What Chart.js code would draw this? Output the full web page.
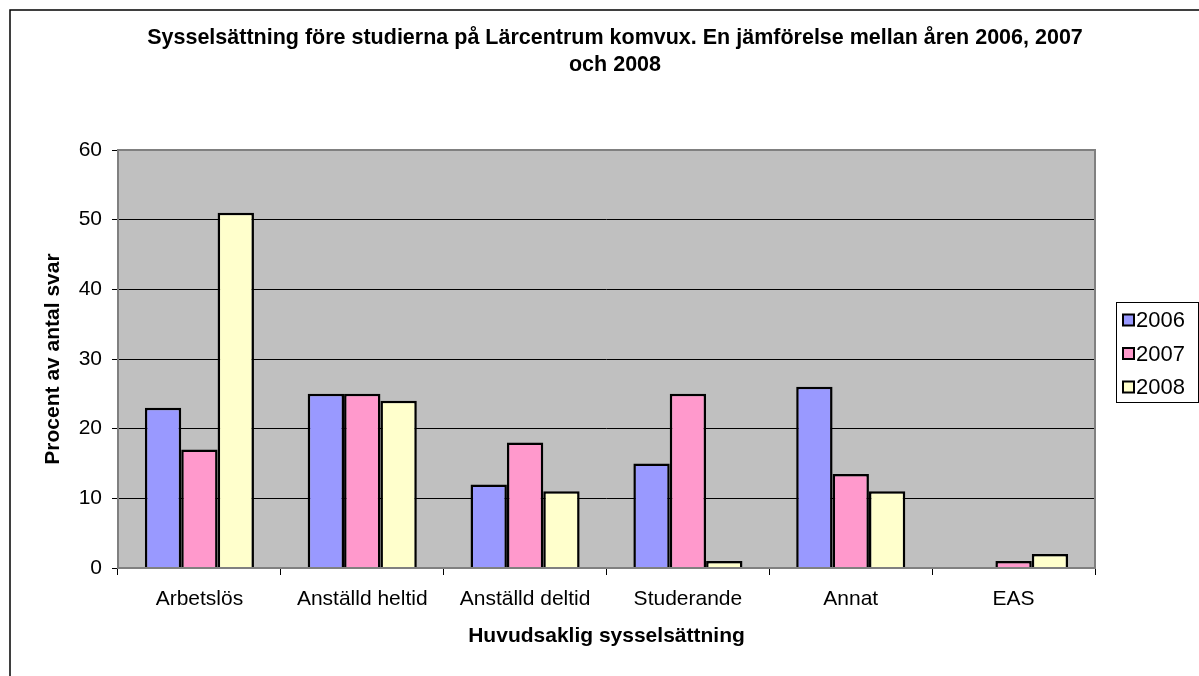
<!DOCTYPE html>
<html>
<head>
<meta charset="utf-8">
<script src="https://cdn.jsdelivr.net/npm/chart.js@4"></script>
<style>
  html, body { margin: 0; padding: 0; background: #fff; }
  #wrap { width: 1199px; height: 676px; }
</style>
</head>
<body>
<div id="wrap"><canvas id="chart" width="1199" height="676"></canvas></div>
<script>
// categories and series
const categories = ["Arbetslös", "Anställd heltid", "Anställd deltid", "Studerande", "Annat", "EAS"];
const years = ["2006", "2007", "2008"];
const values2006 = [23, 25, 12, 15, 26, 0];
const values2007 = [17, 25, 18, 25, 13.5, 1];
const values2008 = [51, 24, 11, 1, 11, 2];
const yTicks = [0, 10, 20, 30, 40, 50, 60];

const titleLines = ["Sysselsättning före studierna på Lärcentrum komvux. En jämförelse mellan åren 2006, 2007", "och 2008"];
const colors = ["#9999FF", "#FF99CC", "#FFFFCC"];

// draws the outer frame, title, plot background/border and the boxed legend
const decor = {
    id: "decor",
    beforeDraw(chart) {
        const ctx = chart.ctx;
        const a = chart.chartArea;
        ctx.save();
        ctx.fillStyle = "#fff";
        ctx.fillRect(0, 0, chart.width, chart.height);
        ctx.fillStyle = "#C0C0C0";
        ctx.fillRect(a.left, a.top, a.right - a.left, a.bottom - a.top);
        ctx.restore();
    },
    afterDatasetsDraw(chart) {
        const ctx = chart.ctx;
        const a = chart.chartArea;
        ctx.save();
        // plot border
        ctx.strokeStyle = "#808080";
        ctx.lineWidth = 2;
        ctx.strokeRect(a.left, a.top, a.right - a.left, a.bottom - a.top);
        // outer frame
        ctx.strokeStyle = "#000";
        ctx.lineWidth = 1.5;
        ctx.strokeRect(10, 10, 1300, 800);
        // title
        ctx.fillStyle = "#000";
        ctx.font = "bold 21.5px Arial, 'Liberation Sans', sans-serif";
        ctx.textAlign = "center";
        ctx.textBaseline = "middle";
        ctx.fillText(titleLines[0], 615, 38);
        ctx.fillText(titleLines[1], 615, 65);
        // legend
        ctx.lineWidth = 1;
        ctx.strokeStyle = "#000";
        ctx.strokeRect(1116.5, 302.5, 82, 100);
        ctx.font = "22px Arial, 'Liberation Sans', sans-serif";
        ctx.textAlign = "left";
        chart.data.datasets.forEach((ds, i) => {
            const y = 320 + i * 33.5;
            ctx.fillStyle = ds.backgroundColor;
            ctx.fillRect(1123, y - 5.5, 11, 11);
            ctx.lineWidth = 2;
            ctx.strokeRect(1123, y - 5.5, 11, 11);
            ctx.fillStyle = "#000";
            ctx.fillText(ds.label, 1136, y + 1);
        });
        ctx.restore();
    }
};

const ctx = document.getElementById("chart").getContext("2d");
const chart = new Chart(ctx, {
    type: "bar",
    data: {
        labels: categories,
        datasets: [
            { label: years[0], data: values2006, backgroundColor: colors[0] },
            { label: years[1], data: values2007, backgroundColor: colors[1] },
            { label: years[2], data: values2008, backgroundColor: colors[2] }
        ]
    },
    options: {
        responsive: false,
        animation: false,
        layout: { padding: { left: 0, top: 150, right: 104, bottom: 0 } },
        datasets: {
            bar: {
                borderColor: "#000",
                borderWidth: 2.5,
                categoryPercentage: 0.67,
                barPercentage: 1
            }
        },
        plugins: {
            legend: { display: false },
            title: { display: false },
            tooltip: { enabled: false }
        },
        scales: {
            x: {
                afterFit(scale) { scale.height = 108; },
                grid: { drawOnChartArea: false, color: "#000", tickLength: 7, offset: true },
                border: { display: false },
                ticks: { color: "#000", font: { family: "Arial, 'Liberation Sans', sans-serif", size: 21 }, padding: 12 },
                title: {
                    display: true,
                    text: "Huvudsaklig sysselsättning",
                    color: "#000",
                    font: { family: "Arial, 'Liberation Sans', sans-serif", size: 21, weight: "bold" },
                    padding: { top: 0, bottom: 27 }
                }
            },
            y: {
                min: 0,
                max: 60,
                afterFit(scale) { scale.width = 118; },
                afterBuildTicks(scale) { scale.ticks = yTicks.map(v => ({ value: v })); },
                grid: { color: "#000", tickLength: 6 },
                border: { display: false },
                ticks: { color: "#000", font: { family: "Arial, 'Liberation Sans', sans-serif", size: 21 }, padding: 10 },
                title: {
                    display: true,
                    text: "Procent av antal svar",
                    color: "#000",
                    font: { family: "Arial, 'Liberation Sans', sans-serif", size: 21, weight: "bold" },
                    padding: { top: 41, bottom: 0 }
                }
            }
        }
    },
    plugins: [decor]
});
</script>
</body>
</html>
